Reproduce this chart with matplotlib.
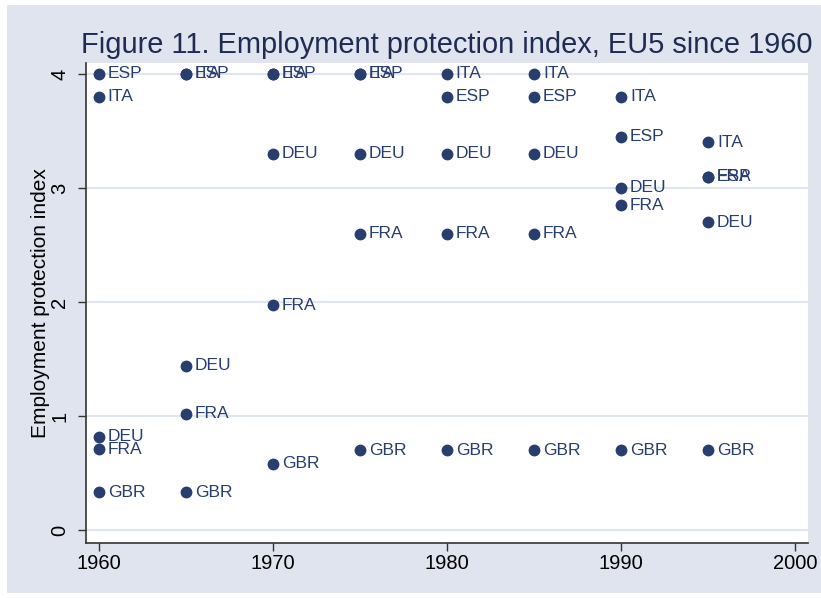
import matplotlib
matplotlib.use("Agg")
import matplotlib.pyplot as plt
from matplotlib.patches import Rectangle

plt.rcParams["font.family"] = ["Liberation Sans", "DejaVu Sans"]

years = [1960, 1965, 1970, 1975, 1980, 1985, 1990, 1995]
# employment protection index by country
epl = {
    "ESP": [4.0, 4.0, 4.0, 4.0, 3.8, 3.8, 3.45, 3.1],
    "ITA": [3.8, 4.0, 4.0, 4.0, 4.0, 4.0, 3.8, 3.4],
    "DEU": [0.82, 1.44, 3.3, 3.3, 3.3, 3.3, 3.0, 2.7],
    "FRA": [0.71, 1.02, 1.97, 2.6, 2.6, 2.6, 2.85, 3.1],
    "GBR": [0.33, 0.33, 0.58, 0.7, 0.7, 0.7, 0.7, 0.7],
}
xticks = [1960, 1970, 1980, 1990, 2000]
yticks = [0, 1, 2, 3, 4]

NAVY = "#273e6e"
BG = "#e0e4ef"
GRID = "#dfe5f1"

fig = plt.figure(figsize=(8.21, 5.98), dpi=100, facecolor="white")
fig.patches.append(Rectangle((7 / 821, 5 / 598), 1, 588 / 598, transform=fig.transFigure,
                             facecolor=BG, edgecolor="none", zorder=-10))
ax = fig.add_axes([86 / 821, 55 / 598, 722 / 821, 480 / 598])
ax.set_facecolor("white")

for name, vals in epl.items():
    ax.plot(years, vals, "o", color=NAVY, markersize=7.5, zorder=3, clip_on=False)
    for x, y in zip(years, vals):
        ax.annotate(name, (x, y), xytext=(6.5, 0), textcoords="offset points",
                    va="center", ha="left", fontsize=12.5, color=NAVY, zorder=4)

ax.set_xlim(1959.27, 2000.75)
ax.set_ylim(-0.114, 4.096)
ax.set_xticks(xticks)
ax.set_yticks(yticks)
ax.grid(axis="y", color=GRID, linewidth=1.5, zorder=0)
ax.set_axisbelow(True)
for s in ["top", "right"]:
    ax.spines[s].set_visible(False)
for s in ["left", "bottom"]:
    ax.spines[s].set_color("#333333")
    ax.spines[s].set_linewidth(1.2)
ax.tick_params(axis="both", direction="out", length=6, width=1, color="#333333",
               labelsize=14.5, labelcolor="black")
ax.tick_params(axis="x", pad=2)
ax.tick_params(axis="y", pad=6)
for lab in ax.get_yticklabels():
    lab.set_rotation(90)
    lab.set_va("center")

ax.set_ylabel("Employment protection index", fontsize=15, color="black")
ax.yaxis.set_label_coords(-0.05, 0.5)

fig.text((86 + 808) / 2 / 821, 1 - 53 / 598,
         "Figure 11. Employment protection index, EU5 since 1960",
         ha="center", va="baseline", fontsize=20.9, color="#1f2c52")

fig.savefig("out.png", dpi=100, facecolor=fig.get_facecolor())
